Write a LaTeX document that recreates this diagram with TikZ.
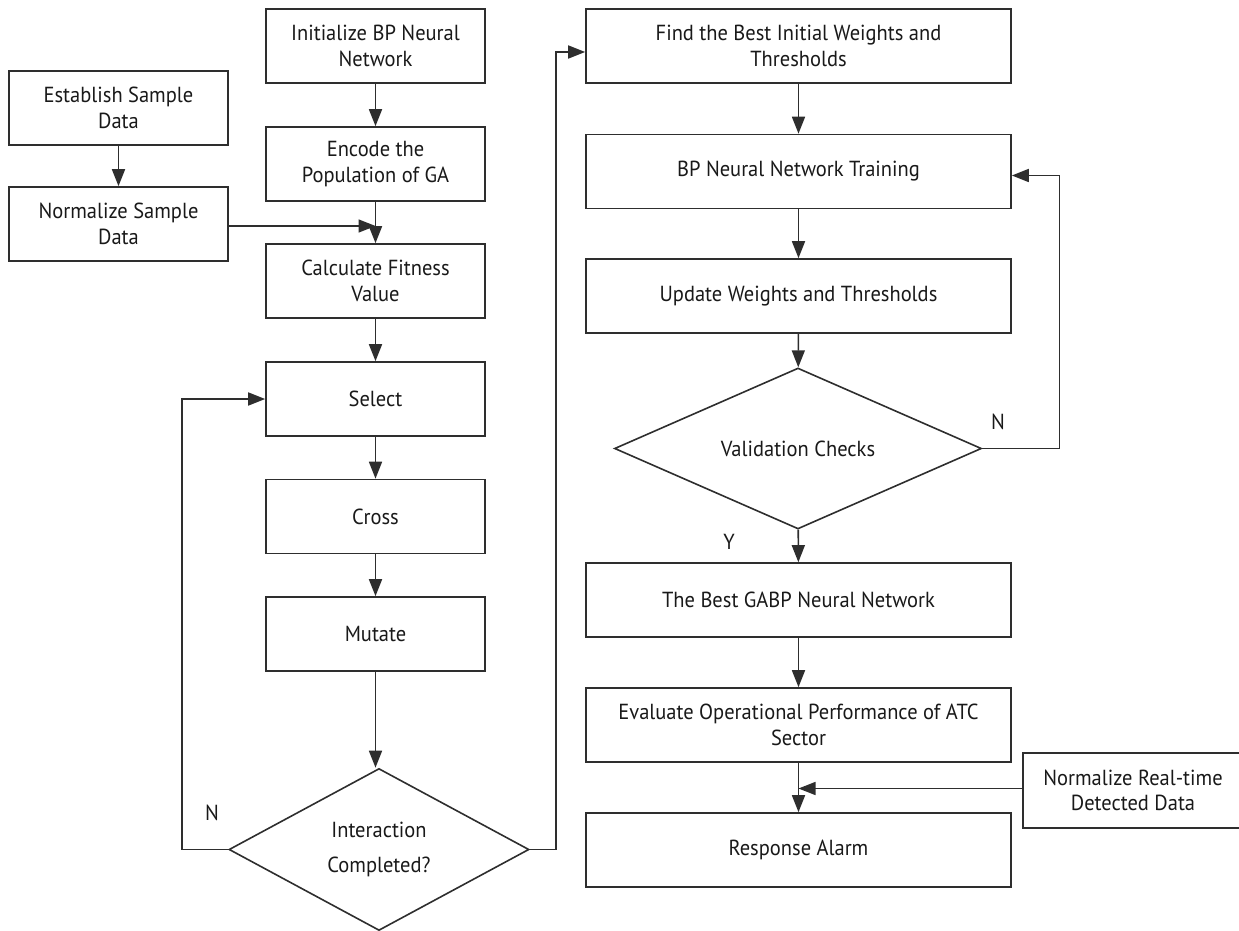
\documentclass[tikz,border=0pt]{standalone}
\usepackage{fontspec}
\setmainfont{PT Sans}[FakeStretch=0.94]
\colorlet{BoxLine}{black!82}
\colorlet{BoxText}{black!90}
\usetikzlibrary{arrows.meta, shapes.geometric}

\tikzset{
    block/.style={draw=BoxLine, line width=0.8pt, rectangle, align=center, text=BoxText,
        inner sep=0pt, minimum width=109.5pt, minimum height=37pt, font=\fontsize{10.9}{12.8}\selectfont},
    wideblock/.style={block, minimum width=212.5pt},
    decision/.style={block, diamond, aspect=2},
    flow/.style={draw=BoxLine, line width=0.8pt, -{Triangle[length=8.5pt, width=6.5pt]}},
    answer/.style={text=BoxText, font=\fontsize{10.9}{12.8}\selectfont}
}

\begin{document}
\begin{tikzpicture}[x=0.5pt, y=-0.5pt]

    \useasboundingbox (0,0) rectangle (1239,931);

    % Columna de los datos de muestra
    \node [block] (est) at (118.5,108) {Establish Sample\\Data};
    \node [block] (norm) at (118.5,224) {Normalize Sample\\Data};

    % Columna del algoritmo genetico
    \node [block] (init) at (375.5,46) {Initialize BP Neural\\Network};
    \node [block] (enc) at (375.5,164) {Encode the\\Population of GA};
    \node [block] (calc) at (375.5,281) {Calculate Fitness\\Value};
    \node [block] (sel) at (375.5,399) {Select};
    \node [block] (cross) at (375.5,516.5) {Cross};
    \node [block] (mut) at (375.5,634) {Mutate};
    \node [decision, minimum width=150pt, minimum height=81pt] (iter) at (379,849.5)
        {Interaction\\[5pt]Completed?};

    % Columna de la red neuronal
    \node [wideblock] (find) at (798.5,46) {Find the Best Initial Weights and\\Thresholds};
    \node [wideblock] (train) at (798.5,171.5) {BP Neural Network Training};
    \node [wideblock] (upd) at (798.5,296) {Update Weights and Thresholds};
    \node [decision, minimum width=183.5pt, minimum height=80.5pt] (valid) at (798,448.5)
        {Validation Checks};
    \node [wideblock] (gabp) at (798.5,600) {The Best GABP Neural Network};
    \node [wideblock] (eval) at (798.5,725) {Evaluate Operational Performance of ATC\\Sector};
    \node [wideblock] (alarm) at (798.5,850) {Response Alarm};
    \node [block, minimum width=110pt, minimum height=37.5pt] (real) at (1133,790.5)
        {Normalize Real-time\\Detected Data};

    % Flechas
    \draw [flow] (est) -- (norm);
    \draw [flow] (init) -- (enc);
    \draw [flow] (enc) -- (calc);
    \draw [flow] ([yshift=-1pt]norm.east) -- ([yshift=-1pt]norm.east -| calc.north);
    \draw [flow] (calc) -- (sel);
    \draw [flow] (sel) -- (cross);
    \draw [flow] (cross) -- (mut);
    \draw [flow] (mut) -- (mut.south |- iter.north);
    \draw [flow] (iter.west) -- ++(-46,0) |- (sel.west);
    \draw [flow] (iter.east) -- ++(26,0) |- ([yshift=-3pt]find.west);

    \draw [flow] (find) -- (train);
    \draw [flow] (train) -- (upd);
    \draw [flow] (upd) -- (valid);
    \draw [flow] (valid) -- (gabp);
    \draw [flow] (valid.east) -- ++(77,0) |- ([yshift=-2pt]train.east);
    \draw [flow] (gabp) -- (eval);
    \draw [flow] (eval) -- (alarm);
    \draw [flow] ([yshift=1pt]real.west) -- ([yshift=1pt]real.west -| eval.south);

    % Respuestas de las decisiones
    \node [answer] (noIter) at (212,813) {N};
    \node [answer] (noValid) at (998,422) {N};
    \node [answer] (yesValid) at (729,542) {Y};

\end{tikzpicture}
\end{document}
